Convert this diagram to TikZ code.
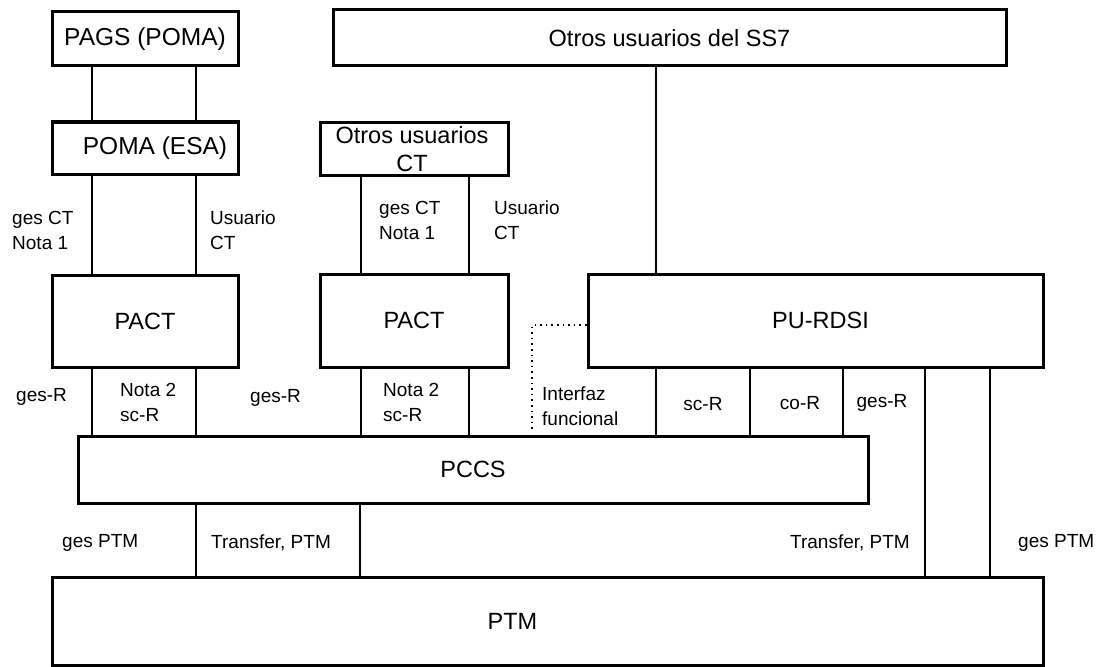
\documentclass[tikz,border=0pt]{standalone}
\usepackage{fontspec}
\setmainfont{Liberation Sans}
\begin{document}
\begin{tikzpicture}[x=1pt,y=-1pt,
  box/.style={draw, line width=3pt, inner sep=0pt, align=center, font=\fontsize{23.5}{27}\selectfont},
  conn/.style={line width=1.6pt},
  dots/.style={line width=1.6pt, dash pattern=on 1.6pt off 4pt},
  lbl/.style={inner sep=0pt, align=left, font=\fontsize{19}{25}\selectfont},
]
\useasboundingbox (0,0) rectangle (1099,666);
% boxes
\node[box, minimum width=186pt, minimum height=54pt, font=\fontsize{24.5}{28}\selectfont] (pags) at (145,39) {PAGS (POMA)};
\node[box, minimum width=186pt, minimum height=52pt, font=\fontsize{24.5}{28}\selectfont] (poma) at (145,148) {\hspace*{20pt}POMA (ESA)};
\node[box, minimum width=186pt, minimum height=92pt] (pact1) at (145,321) {PACT};
\node[box, minimum width=673pt, minimum height=56pt] (ss7) at (669.5,38) {Otros usuarios del SS7};
\node[box, minimum width=188pt, minimum height=53pt, text height=0pt] (oct) at (414,148.5) {};
\node[inner sep=0pt, align=center, font=\fontsize{23.5}{28}\selectfont] (octtext) at (412,149) {Otros usuarios\\CT};
\node[box, minimum width=188pt, minimum height=93pt] (pact2) at (414,320.5) {PACT};
\node[box, minimum width=455pt, minimum height=93pt] (purdsi) at (815.5,320.5) {\hspace*{10pt}PU-RDSI};
\node[box, minimum width=790pt, minimum height=67pt] (pccs) at (473,469.5) {PCCS};
\node[box, minimum width=991pt, minimum height=88pt] (ptm) at (547.5,621) {\hspace*{-70pt}PTM};
% connectors
\draw[conn] (pags.south -| 92,0) -- (poma.north -| 92,0);
\draw[conn] (pags.south -| 196,0) -- (poma.north -| 196,0);
\draw[conn] (poma.south -| 92,0) -- (pact1.north -| 92,0);
\draw[conn] (poma.south -| 196,0) -- (pact1.north -| 196,0);
\draw[conn] (pact1.south -| 92,0) -- (pccs.north -| 92,0);
\draw[conn] (pact1.south -| 196,0) -- (pccs.north -| 196,0);
\draw[conn] (oct.south -| 361,0) -- (pact2.north -| 361,0);
\draw[conn] (oct.south -| 469,0) -- (pact2.north -| 469,0);
\draw[conn] (pact2.south -| 361,0) -- (pccs.north -| 361,0);
\draw[conn] (pact2.south -| 469,0) -- (pccs.north -| 469,0);
\draw[conn] (ss7.south -| 656,0) -- (purdsi.north -| 656,0);
\draw[conn] (purdsi.south -| 656,0) -- (pccs.north -| 656,0);
\draw[conn] (purdsi.south -| 750,0) -- (pccs.north -| 750,0);
\draw[conn] (purdsi.south -| 843,0) -- (pccs.north -| 843,0);
\draw[conn] (purdsi.south -| 925,0) -- (ptm.north -| 925,0);
\draw[conn] (purdsi.south -| 990,0) -- (ptm.north -| 990,0);
\draw[conn] (pccs.south -| 196,0) -- (ptm.north -| 196,0);
\draw[conn] (pccs.south -| 360,0) -- (ptm.north -| 360,0);
% functional interface (dotted)
\coordinate (ifend) at (532,430);
\draw[dots] (purdsi.west |- 0,325) -- (532,325) -- (ifend);
% labels
\node[lbl, anchor=west] (l1) at (12,230.5) {ges CT\\Nota 1};
\node[lbl, anchor=west] (l2) at (210,230.5) {Usuario\\CT};
\node[lbl, anchor=west] (l3) at (379,220.5) {ges CT\\Nota 1};
\node[lbl, anchor=west] (l4) at (494,220.5) {Usuario\\CT};
\node[lbl, anchor=west] (l5) at (16,397) {ges-R};
\node[lbl, anchor=west] (l6) at (120,402.5) {Nota 2\\sc-R};
\node[lbl, anchor=west] (l7) at (250,398) {ges-R};
\node[lbl, anchor=west] (l8) at (383,402.5) {Nota 2\\sc-R};
\node[lbl, anchor=west] (l9) at (542,406.5) {Interfaz\\funcional};
\node[lbl] (l10) at (703,404) {sc-R};
\node[lbl] (l11) at (800,403) {co-R};
\node[lbl] (l12) at (882,403) {ges-R};
\node[lbl, anchor=west] (l13) at (62,543) {ges PTM};
\node[lbl, anchor=west] (l14) at (211,543) {Transfer, PTM};
\node[lbl, anchor=east] (l15) at (910,543) {Transfer, PTM};
\node[lbl, anchor=west] (l16) at (1018,543) {ges PTM};
\end{tikzpicture}
\end{document}
